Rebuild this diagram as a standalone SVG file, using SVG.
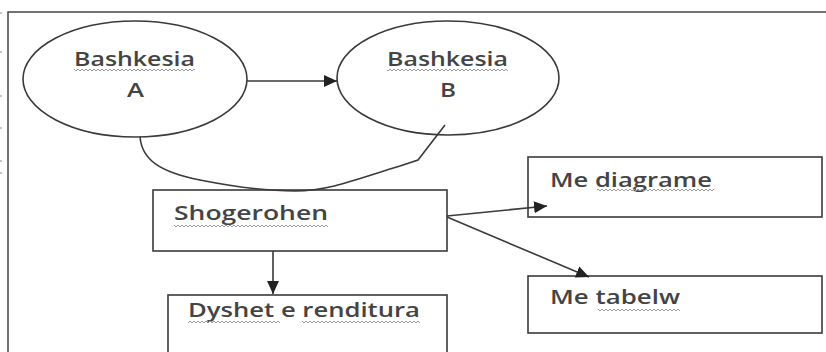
<svg xmlns="http://www.w3.org/2000/svg" width="826" height="352" viewBox="0 0 826 352">
  <style>
    .shape { fill: #ffffff; stroke: #3a3a3a; stroke-width: 1.6; }
    .conn { fill: none; stroke: #3a3a3a; stroke-width: 1.6; }
    .lbl { font-family: "Open Sans", "DejaVu Sans", sans-serif; font-size: 19.5px; font-weight: 600; fill: #444444; }
    .wave { fill: url(#wave); }
    .mark { stroke: #888; stroke-width: 1; }
  </style>
  <defs>
    <marker id="arrow" markerUnits="userSpaceOnUse" markerWidth="14" markerHeight="12" refX="13" refY="6" orient="auto">
      <path d="M0,0 L13,6 L0,12 Z" fill="#222"/>
    </marker>
    <pattern id="wave" patternUnits="userSpaceOnUse" x="0" y="0" width="4" height="4">
      <path d="M0,3 L2,1 L4,3" fill="none" stroke="#9a9a9a" stroke-width="1"/>
    </pattern>
  </defs>
  <rect width="826" height="352" fill="#ffffff"/>
  <!-- page frame -->
  <rect x="8" y="12" width="830" height="352" fill="none" stroke="#444" stroke-width="1.5"/>
  <!-- cut-off margin marks -->
  <g id="margin">
    <line class="mark" x1="0" y1="13" x2="2" y2="13"/>
    <line class="mark" x1="0" y1="52" x2="2" y2="52"/>
    <line class="mark" x1="0" y1="96" x2="2" y2="96"/>
    <line class="mark" x1="0" y1="128" x2="2" y2="128"/>
    <line class="mark" x1="0" y1="161" x2="2" y2="161"/>
    <line class="mark" x1="0" y1="173" x2="2" y2="173"/>
  </g>

  <g id="bashkesiaA">
    <ellipse class="shape" cx="135" cy="79" rx="112" ry="58"/>
    <text class="lbl" x="74" y="66" textLength="121" lengthAdjust="spacingAndGlyphs">Bashkesia</text>
    <rect class="wave" x="74" y="68" width="121" height="4"/>
    <text class="lbl" x="127" y="97" textLength="17" lengthAdjust="spacingAndGlyphs">A</text>
  </g>

  <g id="bashkesiaB">
    <ellipse class="shape" cx="448" cy="78" rx="111" ry="57"/>
    <text class="lbl" x="387" y="66" textLength="121" lengthAdjust="spacingAndGlyphs">Bashkesia</text>
    <rect class="wave" x="387" y="68" width="121" height="4"/>
    <text class="lbl" x="440" y="97" textLength="16" lengthAdjust="spacingAndGlyphs">B</text>
  </g>

  <g id="shogerohen">
    <rect class="shape" x="153" y="190" width="294" height="61"/>
    <text class="lbl" x="174" y="220" textLength="154" lengthAdjust="spacingAndGlyphs">Shogerohen</text>
    <rect class="wave" x="174" y="224" width="154" height="4"/>
  </g>

  <g id="dyshet">
    <rect class="shape" x="168" y="295" width="279" height="60"/>
    <text class="lbl" x="188" y="317" textLength="232" lengthAdjust="spacingAndGlyphs">Dyshet e renditura</text>
    <rect class="wave" x="188" y="320" width="92" height="4"/>
    <rect class="wave" x="302" y="320" width="118" height="4"/>
  </g>

  <g id="meDiagrame">
    <rect class="shape" x="528" y="157" width="294" height="60"/>
    <text class="lbl" x="550" y="187" textLength="162" lengthAdjust="spacingAndGlyphs">Me diagrame</text>
    <rect class="wave" x="597" y="188" width="117" height="4"/>
  </g>

  <g id="meTabelw">
    <rect class="shape" x="528" y="276" width="294" height="57"/>
    <text class="lbl" x="550" y="304" textLength="130" lengthAdjust="spacingAndGlyphs">Me tabelw</text>
    <rect class="wave" x="598" y="308" width="82" height="4"/>
  </g>

  <g id="connectors">
    <line class="conn" x1="247" y1="81" x2="337" y2="81" marker-end="url(#arrow)"/>
    <path class="conn" d="M140,137 C142,160 160,172 200,180 C240,188 268,191 295,191 C330,191 360,178 400,166 L418,160 L445,125"/>
    <line class="conn" x1="273" y1="251" x2="273" y2="294" marker-end="url(#arrow)"/>
    <line class="conn" x1="447" y1="216" x2="547" y2="206" marker-end="url(#arrow)"/>
    <line class="conn" x1="447" y1="217" x2="589" y2="277" marker-end="url(#arrow)"/>
  </g>
</svg>
